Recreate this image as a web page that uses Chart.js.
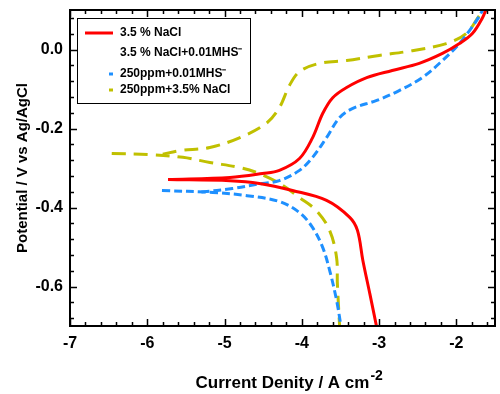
<!DOCTYPE html>
<html>
<head>
<meta charset="utf-8">
<script src="https://cdn.jsdelivr.net/npm/chart.js@4/dist/chart.umd.min.js"></script>
<style>
  html, body { margin: 0; padding: 0; background: #fff; }
  #wrap { width: 500px; height: 394px; }
</style>
</head>
<body>
<div id="wrap"><canvas id="chart" width="500" height="394"></canvas></div>
<script>
// series names, as in the legend
const seriesLabels = ['3.5 % NaCl', '3.5 % NaCl+0.01MHS\u207B', '250ppm+0.01MHS\u207B', '250ppm+3.5% NaCl']

// x = log current density, y = potential (V); cathodic branch runs from Ecorr downwards
const naclCathX = [-5.73, -4.93, -4.55, -4.12, -3.68, -3.38, -3.28, -3.21, -3.12, -3.03]
const naclCathY = [-0.329, -0.332, -0.339, -0.357, -0.382, -0.425, -0.458, -0.534, -0.618, -0.704]
const naclAnodX = [-5.73, -4.93, -4.51, -4.29, -4.03, -3.86, -3.73, -3.60, -3.42, -3.16, -2.83, -2.48, -2.18, -1.96, -1.79, -1.66, -1.61]
const naclAnodY = [-0.329, -0.324, -0.314, -0.306, -0.276, -0.223, -0.162, -0.122, -0.096, -0.071, -0.053, -0.035, -0.010, 0.015, 0.041, 0.081, 0.104]

const mhsCathX = [-5.81, -5.15, -4.71, -4.29, -4.03, -3.86, -3.73, -3.64, -3.55, -3.49]
const mhsCathY = [-0.357, -0.362, -0.370, -0.385, -0.413, -0.451, -0.501, -0.559, -0.635, -0.704]
const mhsAnodX = [-5.30, -4.90, -4.51, -4.29, -4.03, -3.86, -3.68, -3.51, -3.34, -3.03, -2.74, -2.44, -2.18, -1.96, -1.83, -1.74, -1.64]
const mhsAnodY = [-0.361, -0.352, -0.339, -0.332, -0.306, -0.273, -0.223, -0.172, -0.149, -0.129, -0.104, -0.071, -0.028, 0.015, 0.048, 0.073, 0.106]

const mixCathX = [-6.46, -5.97, -5.54, -5.19, -4.80, -4.55, -4.29, -4.03, -3.81, -3.64, -3.55, -3.54, -3.51]
const mixCathY = [-0.263, -0.266, -0.273, -0.286, -0.299, -0.314, -0.339, -0.375, -0.408, -0.458, -0.527, -0.592, -0.704]
const mixAnodX = [-5.80, -5.58, -5.19, -4.80, -4.46, -4.29, -4.16, -4.03, -3.77, -3.42, -3.00, -2.57, -2.13, -1.87, -1.70, -1.61]
const mixAnodY = [-0.265, -0.256, -0.248, -0.223, -0.187, -0.147, -0.091, -0.056, -0.035, -0.028, -0.015, -0.003, 0.015, 0.041, 0.086, 0.106]

// axis ticks
const xTicks = [-7, -6, -5, -4, -3, -2]
const yTicks = [-0.6, -0.4, -0.2, 0.0]

const FONT = "'Liberation Sans', Arial, sans-serif"

function pts(xs, ys) {
  return xs.map((x, i) => ({ x: x, y: ys[i] }))
}

// legend look per series: colour and sample span (null colour = no sample)
const legendStyle = [
  { color: '#ff0000', x0: 85, x1: 113 },
  { color: null },
  { color: '#1e90ff', x0: 109, x1: 113 },
  { color: '#c0c000', x0: 109, x1: 113 },
]

function line(label, data, color, dash) {
  return {
    label: label,
    data: data,
    showLine: true,
    borderColor: color,
    borderWidth: 3,
    borderDash: dash,
    pointRadius: 0,
    tension: 0.35,
    fill: false,
  }
}

const datasets = [
  line(seriesLabels[0], pts(naclCathX, naclCathY), '#ff0000', []),
  line(seriesLabels[0], pts(naclAnodX, naclAnodY), '#ff0000', []),
  line(seriesLabels[1], [], '#000000', []),
  line(seriesLabels[2], pts(mhsCathX, mhsCathY), '#1e90ff', [8, 4]),
  line(seriesLabels[2], pts(mhsAnodX, mhsAnodY), '#1e90ff', [8, 4]),
  line(seriesLabels[3], pts(mixCathX, mixCathY), '#c0c000', [14, 8]),
  line(seriesLabels[3], pts(mixAnodX, mixAnodY), '#c0c000', [14, 8]),
]

// frame with inward major/minor ticks on all four sides
const frameTicks = {
  id: 'frameTicks',
  afterDraw(chart) {
    const ctx = chart.ctx
    const a = chart.chartArea
    const xs = chart.scales.x
    const ys = chart.scales.y
    ctx.save()
    ctx.strokeStyle = '#000'
    ctx.lineWidth = 1.5
    ctx.beginPath()
    for (let k = 0; k * 0.2 <= 5.5 + 1e-9; k++) {
      const v = -7 + k * 0.2
      const len = k % 5 === 0 ? 7 : 4
      const px = Math.round(xs.getPixelForValue(v)) + 0.5
      ctx.moveTo(px, a.bottom); ctx.lineTo(px, a.bottom - len)
      ctx.moveTo(px, a.top); ctx.lineTo(px, a.top + len)
    }
    for (let k = -35; k <= 5; k++) {
      if (k % 2 !== 0) continue
      const v = k * 0.02
      const len = k % 10 === 0 ? 7 : 4
      const py = Math.round(ys.getPixelForValue(v)) + 0.5
      ctx.moveTo(a.left, py); ctx.lineTo(a.left + len, py)
      ctx.moveTo(a.right, py); ctx.lineTo(a.right - len, py)
    }
    ctx.stroke()
    ctx.lineWidth = 2
    ctx.strokeRect(a.left, a.top, a.right - a.left, a.bottom - a.top)
    ctx.restore()
  }
}

// boxed legend inside the plot, upper left
const boxLegend = {
  id: 'boxLegend',
  afterDraw(chart) {
    const ctx = chart.ctx
    const left = 77, top = 18, w = 173, h = 85
    const rows = [15, 35, 56, 72]
    ctx.save()
    ctx.fillStyle = '#fff'
    ctx.fillRect(left, top, w, h)
    ctx.strokeStyle = '#000'
    ctx.lineWidth = 1
    ctx.strokeRect(left + 0.5, top + 0.5, w, h)
    ctx.font = 'bold 12px ' + FONT
    ctx.textBaseline = 'middle'
    seriesLabels.forEach((name, i) => {
      const y = top + rows[i]
      const st = legendStyle[i]
      if (st.color) {
        ctx.strokeStyle = st.color
        ctx.lineWidth = 3
        ctx.beginPath()
        ctx.moveTo(st.x0, y); ctx.lineTo(st.x1, y)
        ctx.stroke()
      }
      ctx.fillStyle = '#000'
      ctx.fillText(name, 120, y)
    })
    ctx.restore()
  }
}

// the "-2" exponent after the x title
const xTitleSup = {
  id: 'xTitleSup',
  afterDraw(chart) {
    const ctx = chart.ctx
    const a = chart.chartArea
    const t = chart.options.scales.x.title
    ctx.save()
    ctx.font = 'bold 17px ' + FONT
    const w = ctx.measureText(t.text).width
    const x = (a.left + a.right) / 2 + w / 2 + 1
    ctx.font = 'bold 14px ' + FONT
    ctx.fillStyle = '#000'
    ctx.textBaseline = 'middle'
    ctx.fillText('-2', x, 376)
    ctx.restore()
  }
}

new Chart(document.getElementById('chart'), {
  type: 'scatter',
  data: { datasets: datasets },
  options: {
    responsive: false,
    animation: false,
    layout: { padding: { top: 10, right: 5, left: 0, bottom: 0 } },
    plugins: { legend: { display: false }, tooltip: { enabled: false } },
    scales: {
      x: {
        type: 'linear',
        min: -7,
        max: -1.5,
        afterBuildTicks: (s) => { s.ticks = xTicks.map((v) => ({ value: v })) },
        afterFit: (s) => { s.height = 68; s.paddingLeft = 0; s.paddingRight = 0 },
        grid: { display: false, drawTicks: false },
        border: { display: false },
        ticks: {
          padding: 8,
          color: '#000',
          font: { family: FONT, size: 16, weight: 'bold' },
          callback: (v) => String(v),
        },
        title: {
          display: true,
          text: 'Current Denity / A cm',
          color: '#000',
          font: { family: FONT, size: 17, weight: 'bold' },
          padding: { top: 0, bottom: 0 },
        },
      },
      y: {
        type: 'linear',
        min: -0.7,
        max: 0.1,
        afterBuildTicks: (s) => { s.ticks = yTicks.map((v) => ({ value: v })) },
        afterFit: (s) => { s.width = 70; s.paddingTop = 0; s.paddingBottom = 0 },
        grid: { display: false, drawTicks: false },
        border: { display: false },
        ticks: {
          padding: 7,
          color: '#000',
          font: { family: FONT, size: 16, weight: 'bold' },
          callback: (v) => v.toFixed(1),
        },
        title: {
          display: true,
          text: 'Potential / V vs Ag/AgCl',
          color: '#000',
          font: { family: FONT, size: 15, weight: 'bold' },
          padding: { top: 14, bottom: 0 },
        },
      },
    },
  },
  plugins: [frameTicks, boxLegend, xTitleSup],
})
</script>
</body>
</html>
